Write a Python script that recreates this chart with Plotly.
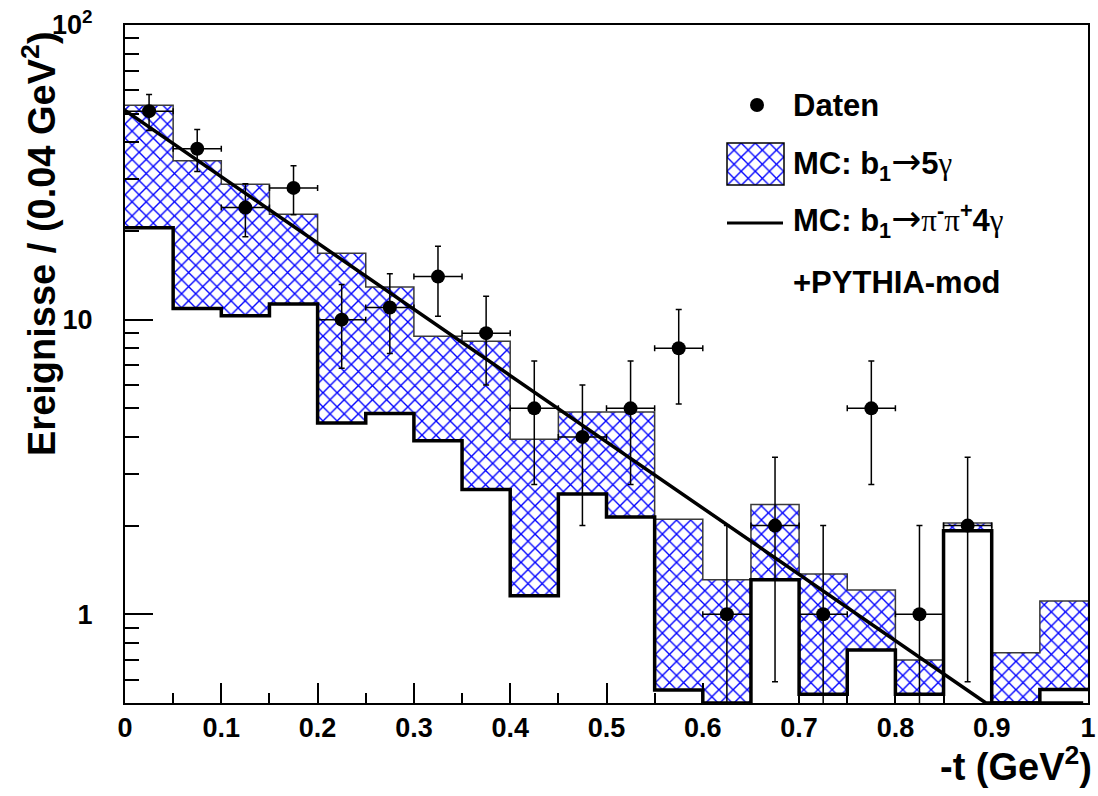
import plotly.graph_objects as go

# ---------------- data ----------------
bin_edges = [0.0, 0.05, 0.10, 0.15, 0.20, 0.25, 0.30, 0.35, 0.40, 0.45, 0.50,
             0.55, 0.60, 0.65, 0.70, 0.75, 0.80, 0.85, 0.90, 0.95, 1.0]
bin_centers = [0.025, 0.075, 0.125, 0.175, 0.225, 0.275, 0.325, 0.375, 0.425, 0.475,
               0.525, 0.575, 0.625, 0.675, 0.725, 0.775, 0.825, 0.875, 0.925, 0.975]

# MC: b1 -> 5 gamma (hatched histogram)
mc_5g = [53.4, 34.6, 28.8, 22.8, 16.8, 12.9, 8.78, 8.44, 3.93, 4.86,
         4.86, 2.10, 1.31, 2.36, 1.37, 1.21, 0.70, 2.04, 0.741, 1.11]
# MC: b1 -> pi- pi+ 4 gamma + PYTHIA-mod (open histogram, thick outline)
mc_pipi = [20.5, 10.9, 10.3, 11.3, 4.46, 4.80, 3.88, 2.65, 1.157, 2.56,
           2.14, 0.553, 0.5, 1.31, 0.535, 0.757, 0.535, 1.92, 0.5, 0.556]

# Daten
data_t = [0.025, 0.075, 0.125, 0.175, 0.225, 0.275, 0.325, 0.375, 0.425,
          0.475, 0.525, 0.575, 0.625, 0.675, 0.725, 0.775, 0.825, 0.875]
data_n = [51, 38, 24, 28, 10, 11, 14, 9, 5, 4, 5, 8, 1, 2, 1, 5, 1, 2]
data_err = [7.14, 6.16, 4.90, 5.29, 3.16, 3.32, 3.74, 3.00, 2.24,
            2.00, 2.24, 2.83, 1.00, 1.41, 1.00, 2.24, 1.00, 1.41]
data_terr = [0.025] * len(data_t)

# exponential fit line (straight on log scale)
fit_t = [0.0, 0.894, 0.995]
fit_y = [51.3, 0.5, 0.5]

y_tickvals = [1, 10, 100]
y_ticktext = ["1", "10", "10<sup>2</sup>"]
y_minor = [0.5, 0.6, 0.7, 0.8, 0.9, 2, 3, 4, 5, 6, 7, 8, 9, 20, 30, 40, 50, 60, 70, 80, 90]
x_tickvals = [0, 0.1, 0.2, 0.3, 0.4, 0.5, 0.6, 0.7, 0.8, 0.9, 1.0]
x_ticktext = ["0", "0.1", "0.2", "0.3", "0.4", "0.5", "0.6", "0.7", "0.8", "0.9", "1"]
x_minor = [0.05, 0.15, 0.25, 0.35, 0.45, 0.55, 0.65, 0.75, 0.85, 0.95]

# ---------------- geometry (pixels) ----------------
W, H = 1098, 796
L, R, T, B = 125, 1088, 25, 703
PW, PH = R - L, B - T


def px(x):
    return (x - L) / PW


def py(y):
    return (B - y) / PH


FONT = "Liberation Sans, Arial, Helvetica, sans-serif"
BLUE = "#0000ff"

fig = go.Figure()

pattern = dict(shape="x", fgcolor=BLUE, bgcolor="white", size=10, solidity=0.25, fillmode="replace")

# hatched histogram fill
fig.add_trace(go.Bar(x=bin_centers, y=mc_5g, width=0.05,
                     marker=dict(color="white", pattern=pattern, line=dict(width=0)),
                     showlegend=False, hoverinfo="skip"))
# white fill of the lower histogram
fig.add_trace(go.Bar(x=bin_centers, y=mc_pipi, width=0.05,
                     marker=dict(color="white", line=dict(width=0)),
                     showlegend=False, hoverinfo="skip"))
# outlines as step lines
fig.add_trace(go.Scatter(x=bin_edges, y=mc_5g + [mc_5g[-1]], mode="lines",
                         line=dict(color="#3a3a3a", width=1.5, shape="hv"),
                         showlegend=False, hoverinfo="skip"))
fig.add_trace(go.Scatter(x=bin_edges, y=mc_pipi + [mc_pipi[-1]], mode="lines",
                         line=dict(color="black", width=3.5, shape="hv"),
                         showlegend=False, hoverinfo="skip"))
# fit line
fig.add_trace(go.Scatter(x=fit_t, y=fit_y, mode="lines",
                         line=dict(color="black", width=3.5),
                         showlegend=False, hoverinfo="skip"))
# data points
fig.add_trace(go.Scatter(x=data_t, y=data_n, mode="markers",
                         marker=dict(color="black", size=14, symbol="circle"),
                         error_y=dict(type="data", array=data_err, arrayminus=data_err,
                                      color="black", thickness=1.5, width=3),
                         error_x=dict(type="data", array=data_terr, arrayminus=data_terr,
                                      color="black", thickness=1.5, width=3),
                         showlegend=False, hoverinfo="skip"))

# legend swatch for hatched histogram (separate tiny axes)
fig.add_trace(go.Bar(x=[0], y=[1], width=1, xaxis="x2", yaxis="y2",
                     marker=dict(color="white", pattern=pattern, line=dict(width=0)),
                     showlegend=False, hoverinfo="skip"))

tickfont = dict(family=FONT, size=27, color="black", weight="bold")

fig.update_layout(
    width=W, height=H,
    margin=dict(l=L, r=W - R, t=T, b=H - B, autoexpand=False),
    paper_bgcolor="white", plot_bgcolor="white",
    barmode="overlay", bargap=0,
    showlegend=False,
    xaxis=dict(range=[0, 1], tickvals=x_tickvals, ticktext=x_ticktext,
               ticks="inside", ticklen=20, tickwidth=1.5, tickcolor="black",
               minor=dict(tickvals=x_minor, ticks="inside", ticklen=10, tickwidth=1.5, tickcolor="black"),
               showline=True, linecolor="black", linewidth=2, mirror=True,
               showgrid=False, zeroline=False, tickfont=tickfont, ticklabelstandoff=0),
    yaxis=dict(type="log", range=[-0.30103, 2], tickvals=y_tickvals, ticktext=y_ticktext,
               ticks="inside", ticklen=28, tickwidth=1.5, tickcolor="black",
               minor=dict(tickvals=y_minor, ticks="inside", ticklen=14, tickwidth=1.5, tickcolor="black"),
               showline=True, linecolor="black", linewidth=2, mirror=True,
               showgrid=False, zeroline=False, tickfont=tickfont, ticklabelstandoff=25),
    xaxis2=dict(domain=[px(727), px(784)], range=[-0.5, 0.5], visible=False, anchor="y2",
                fixedrange=True),
    yaxis2=dict(domain=[py(185), py(143)], range=[0, 1], visible=False, anchor="x2",
                fixedrange=True),
)

titlefont = dict(family=FONT, size=38, color="black", weight="bold")
legfont = dict(family=FONT, size=31, color="black", weight="bold")

ann = []
ann.append(dict(text="Ereignisse / (0.04 GeV<sup>2</sup>)", textangle=-90,
                xref="paper", yref="paper", x=px(39), y=py(244),
                xanchor="center", yanchor="middle", showarrow=False, font=titlefont))
ann.append(dict(text="-t (GeV<sup>2</sup>)",
                xref="paper", yref="paper", x=px(1094), y=py(764),
                xanchor="right", yanchor="middle", showarrow=False, font=titlefont))

arrow = '<span style="font-family:DejaVu Sans;font-weight:normal;font-size:36px">\u2192</span>'
gam = '<span style="font-family:Liberation Serif;font-weight:normal">\u03b3</span>'
pi = '<span style="font-family:Liberation Serif;font-weight:normal">\u03c0</span>'

leg_items = [
    ("Daten", 106),
    ("MC: b<sub>1</sub>" + arrow + "5" + gam, 164),
    ("MC: b<sub>1</sub>" + arrow + pi + "<sup>-</sup>" + pi + "<sup>+</sup>4" + gam, 221),
    ("+PYTHIA-mod", 282),
]
for txt, yc in leg_items:
    ann.append(dict(text=txt, xref="paper", yref="paper", x=px(791), y=py(yc),
                    xanchor="left", yanchor="middle", showarrow=False, font=legfont))
fig.update_layout(annotations=ann)

shapes = [
    dict(type="circle", xref="paper", yref="paper", xsizemode="pixel", ysizemode="pixel",
         xanchor=px(757), yanchor=py(105), x0=-7, x1=7, y0=-7, y1=7,
         fillcolor="black", line=dict(color="black", width=0)),
    dict(type="rect", xref="paper", yref="paper", x0=px(727), x1=px(784), y0=py(185), y1=py(143),
         line=dict(color="black", width=1.5), fillcolor="rgba(0,0,0,0)", layer="above"),
    dict(type="line", xref="paper", yref="paper", x0=px(727), x1=px(783), y0=py(223), y1=py(223),
         line=dict(color="black", width=3)),
]
fig.update_layout(shapes=shapes)

fig.write_html("out.html")
